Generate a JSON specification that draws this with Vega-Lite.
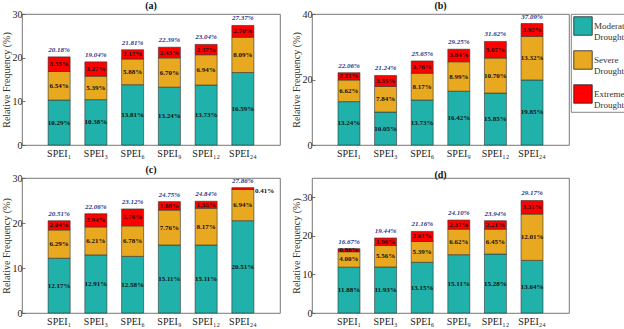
{
  "$schema": "https://vega.github.io/schema/vega-lite/v6.json",
  "padding": {"left": 0, "top": 0, "right": 0, "bottom": 0},
  "autosize": {"type": "pad"},
  "background": "white",
  "config": {
    "font": "Liberation Serif",
    "view": {"stroke": "#555", "strokeWidth": 0.8},
    "title": {"font": "Liberation Serif", "fontSize": 10, "fontWeight": "bold", "color": "#111", "offset": -2, "frame": "group"},
    "axis": {"domain": false, "grid": false, "labelFont": "Liberation Serif", "labelFontSize": 10, "labelColor": "#222", "titleFont": "Liberation Serif", "titleFontSize": 10, "titleFontWeight": "normal", "titleColor": "#333", "tickColor": "#555", "tickWidth": 0.8},
    "axisX": {"ticks": false, "labelAngle": 0, "labelPadding": 3, "title": null},
    "axisY": {"tickSize": -3, "labelPadding": 3, "titleX": -16, "titleBaseline": "middle"},
    "legend": {"title": null, "orient": "right", "offset": 1, "strokeColor": "#666", "strokeWidth": 0.8, "padding": 2, "symbolType": "square", "symbolSize": 340, "symbolStrokeColor": "#222", "symbolStrokeWidth": 0.8, "symbolOpacity": 1, "labelFont": "Liberation Serif", "labelFontSize": 9, "labelColor": "#333", "labelLimit": 200, "rowPadding": 7, "labelOffset": 1}
  },
  "datasets": {
    "main": [
      {"p": "a", "s": "SPEI₁", "Moderate Drought": 10.29, "Severe Drought": 6.54, "Extreme Drought": 3.35, "t": 20.18},
      {"p": "a", "s": "SPEI₃", "Moderate Drought": 10.38, "Severe Drought": 5.39, "Extreme Drought": 3.27, "t": 19.04},
      {"p": "a", "s": "SPEI₆", "Moderate Drought": 13.81, "Severe Drought": 5.88, "Extreme Drought": 2.12, "t": 21.81},
      {"p": "a", "s": "SPEI₉", "Moderate Drought": 13.24, "Severe Drought": 6.70, "Extreme Drought": 2.45, "t": 22.39},
      {"p": "a", "s": "SPEI₁₂", "Moderate Drought": 13.73, "Severe Drought": 6.94, "Extreme Drought": 2.37, "t": 23.04},
      {"p": "a", "s": "SPEI₂₄", "Moderate Drought": 16.59, "Severe Drought": 8.09, "Extreme Drought": 2.70, "t": 27.37},
      {"p": "b", "s": "SPEI₁", "Moderate Drought": 13.24, "Severe Drought": 6.62, "Extreme Drought": 2.21, "t": 22.06},
      {"p": "b", "s": "SPEI₃", "Moderate Drought": 10.05, "Severe Drought": 7.84, "Extreme Drought": 3.35, "t": 21.24},
      {"p": "b", "s": "SPEI₆", "Moderate Drought": 13.73, "Severe Drought": 8.17, "Extreme Drought": 3.76, "t": 25.65},
      {"p": "b", "s": "SPEI₉", "Moderate Drought": 16.42, "Severe Drought": 8.99, "Extreme Drought": 3.84, "t": 29.25},
      {"p": "b", "s": "SPEI₁₂", "Moderate Drought": 15.85, "Severe Drought": 10.70, "Extreme Drought": 5.07, "t": 31.62},
      {"p": "b", "s": "SPEI₂₄", "Moderate Drought": 19.85, "Severe Drought": 13.32, "Extreme Drought": 3.92, "t": 37.09},
      {"p": "c", "s": "SPEI₁", "Moderate Drought": 12.17, "Severe Drought": 6.29, "Extreme Drought": 2.04, "t": 20.51},
      {"p": "c", "s": "SPEI₃", "Moderate Drought": 12.91, "Severe Drought": 6.21, "Extreme Drought": 2.94, "t": 22.06},
      {"p": "c", "s": "SPEI₆", "Moderate Drought": 12.58, "Severe Drought": 6.78, "Extreme Drought": 3.76, "t": 23.12},
      {"p": "c", "s": "SPEI₉", "Moderate Drought": 15.11, "Severe Drought": 7.76, "Extreme Drought": 1.88, "t": 24.75},
      {"p": "c", "s": "SPEI₁₂", "Moderate Drought": 15.11, "Severe Drought": 8.17, "Extreme Drought": 1.55, "t": 24.84},
      {"p": "c", "s": "SPEI₂₄", "Moderate Drought": 20.51, "Severe Drought": 6.94, "Extreme Drought": 0.41, "t": 27.86},
      {"p": "d", "s": "SPEI₁", "Moderate Drought": 11.88, "Severe Drought": 4.00, "Extreme Drought": 0.80, "t": 16.67},
      {"p": "d", "s": "SPEI₃", "Moderate Drought": 11.93, "Severe Drought": 5.56, "Extreme Drought": 1.96, "t": 19.44},
      {"p": "d", "s": "SPEI₆", "Moderate Drought": 13.15, "Severe Drought": 5.39, "Extreme Drought": 2.61, "t": 21.16},
      {"p": "d", "s": "SPEI₉", "Moderate Drought": 15.11, "Severe Drought": 6.62, "Extreme Drought": 2.37, "t": 24.10},
      {"p": "d", "s": "SPEI₁₂", "Moderate Drought": 15.28, "Severe Drought": 6.45, "Extreme Drought": 2.21, "t": 23.94},
      {"p": "d", "s": "SPEI₂₄", "Moderate Drought": 13.64, "Severe Drought": 12.01, "Extreme Drought": 3.51, "t": 29.17}
    ]
  },
  "resolve": {"scale": {"color": "shared"}},
  "bounds": "flush",
  "columns": 2,
  "spacing": {"row": 33, "column": 32},
  "concat": [
    {
      "width": 258, "height": 131,
      "title": "(a)",
      "data": {"name": "main"},
      "transform": [
        {"filter": "datum.p === 'a'"},
        {"fold": ["Moderate Drought", "Severe Drought", "Extreme Drought"], "as": ["cat", "v"]},
        {"calculate": "indexof(['Moderate Drought','Severe Drought','Extreme Drought'], datum.cat)", "as": "o"},
        {"stack": "v", "groupby": ["s"], "sort": [{"field": "o", "order": "ascending"}], "as": ["v0", "v1"]},
        {"calculate": "(datum.v0 + datum.v1) / 2", "as": "mid"},
        {"calculate": "format(datum.v, '.2f') + '%'", "as": "lab"},
        {"calculate": "format(datum.t, '.2f') + '%'", "as": "tlab"}
      ],
      "encoding": {
        "x": {"field": "s", "type": "nominal", "sort": ["SPEI₁", "SPEI₃", "SPEI₆", "SPEI₉", "SPEI₁₂", "SPEI₂₄"], "scale": {"paddingInner": 0.4, "paddingOuter": 0.71}, "axis": {}}
      },
      "layer": [
        {
          "mark": {"type": "bar", "stroke": "#333", "strokeWidth": 0.6},
          "encoding": {
            "y": {"field": "v0", "type": "quantitative", "scale": {"domain": [0, 30], "nice": false}, "axis": {"title": "Relative Frequency (%)", "values": [0, 5, 10, 15, 20, 25, 30]}},
            "y2": {"field": "v1"},
            "color": {"field": "cat", "type": "nominal", "scale": {"domain": ["Moderate Drought", "Severe Drought", "Extreme Drought"], "range": ["#20B2AA", "#E8A820", "#FF0000"]}, "legend": {"labelExpr": "split(datum.label, ' ')"}}
          }
        },
        {
          "mark": {"type": "text", "fontSize": 7, "fontWeight": "bold", "color": "#111"},
          "encoding": {"y": {"field": "mid", "type": "quantitative"}, "text": {"field": "lab"}}
        },
        {
          "transform": [{"filter": "datum.o === 0"}],
          "mark": {"type": "text", "fontSize": 7, "fontWeight": "bold", "fontStyle": "italic", "color": "#2B3A8E", "dy": -7},
          "encoding": {"y": {"field": "t", "type": "quantitative"}, "text": {"field": "tlab"}}
        }
      ]
    },
    {
      "width": 257, "height": 131,
      "title": "(b)",
      "data": {"name": "main"},
      "transform": [
        {"filter": "datum.p === 'b'"},
        {"fold": ["Moderate Drought", "Severe Drought", "Extreme Drought"], "as": ["cat", "v"]},
        {"calculate": "indexof(['Moderate Drought','Severe Drought','Extreme Drought'], datum.cat)", "as": "o"},
        {"stack": "v", "groupby": ["s"], "sort": [{"field": "o", "order": "ascending"}], "as": ["v0", "v1"]},
        {"calculate": "(datum.v0 + datum.v1) / 2", "as": "mid"},
        {"calculate": "format(datum.v, '.2f') + '%'", "as": "lab"},
        {"calculate": "format(datum.t, '.2f') + '%'", "as": "tlab"}
      ],
      "encoding": {
        "x": {"field": "s", "type": "nominal", "sort": ["SPEI₁", "SPEI₃", "SPEI₆", "SPEI₉", "SPEI₁₂", "SPEI₂₄"], "scale": {"paddingInner": 0.4, "paddingOuter": 0.71}, "axis": {}}
      },
      "layer": [
        {
          "mark": {"type": "bar", "stroke": "#333", "strokeWidth": 0.6},
          "encoding": {
            "y": {"field": "v0", "type": "quantitative", "scale": {"domain": [0, 40], "nice": false}, "axis": {"title": "Relative Frequency (%)", "values": [0, 10, 20, 30, 40]}},
            "y2": {"field": "v1"},
            "color": {"field": "cat", "type": "nominal", "scale": {"domain": ["Moderate Drought", "Severe Drought", "Extreme Drought"], "range": ["#20B2AA", "#E8A820", "#FF0000"]}, "legend": {"labelExpr": "split(datum.label, ' ')"}}
          }
        },
        {
          "mark": {"type": "text", "fontSize": 7, "fontWeight": "bold", "color": "#111"},
          "encoding": {"y": {"field": "mid", "type": "quantitative"}, "text": {"field": "lab"}}
        },
        {
          "transform": [{"filter": "datum.o === 0"}],
          "mark": {"type": "text", "fontSize": 7, "fontWeight": "bold", "fontStyle": "italic", "color": "#2B3A8E", "dy": -7},
          "encoding": {"y": {"field": "t", "type": "quantitative"}, "text": {"field": "tlab"}}
        }
      ]
    },
    {
      "width": 258, "height": 135,
      "title": "(c)",
      "data": {"name": "main"},
      "transform": [
        {"filter": "datum.p === 'c'"},
        {"fold": ["Moderate Drought", "Severe Drought", "Extreme Drought"], "as": ["cat", "v"]},
        {"calculate": "indexof(['Moderate Drought','Severe Drought','Extreme Drought'], datum.cat)", "as": "o"},
        {"stack": "v", "groupby": ["s"], "sort": [{"field": "o", "order": "ascending"}], "as": ["v0", "v1"]},
        {"calculate": "(datum.v0 + datum.v1) / 2", "as": "mid"},
        {"calculate": "format(datum.v, '.2f') + '%'", "as": "lab"},
        {"calculate": "format(datum.t, '.2f') + '%'", "as": "tlab"}
      ],
      "encoding": {
        "x": {"field": "s", "type": "nominal", "sort": ["SPEI₁", "SPEI₃", "SPEI₆", "SPEI₉", "SPEI₁₂", "SPEI₂₄"], "scale": {"paddingInner": 0.4, "paddingOuter": 0.71}, "axis": {}}
      },
      "layer": [
        {
          "mark": {"type": "bar", "stroke": "#333", "strokeWidth": 0.6},
          "encoding": {
            "y": {"field": "v0", "type": "quantitative", "scale": {"domain": [0, 30], "nice": false}, "axis": {"title": "Relative Frequency (%)", "values": [0, 5, 10, 15, 20, 25, 30]}},
            "y2": {"field": "v1"},
            "color": {"field": "cat", "type": "nominal", "scale": {"domain": ["Moderate Drought", "Severe Drought", "Extreme Drought"], "range": ["#20B2AA", "#E8A820", "#FF0000"]}, "legend": {"labelExpr": "split(datum.label, ' ')"}}
          }
        },
        {
          "transform": [{"filter": "!(datum.s === 'SPEI₂₄' && datum.o === 2)"}],
          "mark": {"type": "text", "fontSize": 7, "fontWeight": "bold", "color": "#111"},
          "encoding": {"y": {"field": "mid", "type": "quantitative"}, "text": {"field": "lab"}}
        },
        {
          "transform": [{"filter": "datum.s === 'SPEI₂₄' && datum.o === 2"}],
          "mark": {"type": "text", "fontSize": 7, "fontWeight": "bold", "color": "#111", "align": "left", "dx": 12, "dy": 2},
          "encoding": {"y": {"field": "mid", "type": "quantitative"}, "text": {"field": "lab"}}
        },
        {
          "transform": [{"filter": "datum.o === 0"}],
          "mark": {"type": "text", "fontSize": 7, "fontWeight": "bold", "fontStyle": "italic", "color": "#2B3A8E", "dy": -7},
          "encoding": {"y": {"field": "t", "type": "quantitative"}, "text": {"field": "tlab"}}
        }
      ]
    },
    {
      "width": 257, "height": 135,
      "title": "(d)",
      "data": {"name": "main"},
      "transform": [
        {"filter": "datum.p === 'd'"},
        {"fold": ["Moderate Drought", "Severe Drought", "Extreme Drought"], "as": ["cat", "v"]},
        {"calculate": "indexof(['Moderate Drought','Severe Drought','Extreme Drought'], datum.cat)", "as": "o"},
        {"stack": "v", "groupby": ["s"], "sort": [{"field": "o", "order": "ascending"}], "as": ["v0", "v1"]},
        {"calculate": "(datum.v0 + datum.v1) / 2", "as": "mid"},
        {"calculate": "format(datum.v, '.2f') + '%'", "as": "lab"},
        {"calculate": "format(datum.t, '.2f') + '%'", "as": "tlab"}
      ],
      "encoding": {
        "x": {"field": "s", "type": "nominal", "sort": ["SPEI₁", "SPEI₃", "SPEI₆", "SPEI₉", "SPEI₁₂", "SPEI₂₄"], "scale": {"paddingInner": 0.4, "paddingOuter": 0.71}, "axis": {}}
      },
      "layer": [
        {
          "mark": {"type": "bar", "stroke": "#333", "strokeWidth": 0.6},
          "encoding": {
            "y": {"field": "v0", "type": "quantitative", "scale": {"domain": [0, 35], "nice": false}, "axis": {"title": "Relative Frequency (%)", "values": [0, 5, 10, 15, 20, 25, 30, 35]}},
            "y2": {"field": "v1"},
            "color": {"field": "cat", "type": "nominal", "scale": {"domain": ["Moderate Drought", "Severe Drought", "Extreme Drought"], "range": ["#20B2AA", "#E8A820", "#FF0000"]}, "legend": {"labelExpr": "split(datum.label, ' ')"}}
          }
        },
        {
          "mark": {"type": "text", "fontSize": 7, "fontWeight": "bold", "color": "#111"},
          "encoding": {"y": {"field": "mid", "type": "quantitative"}, "text": {"field": "lab"}}
        },
        {
          "transform": [{"filter": "datum.o === 0"}],
          "mark": {"type": "text", "fontSize": 7, "fontWeight": "bold", "fontStyle": "italic", "color": "#2B3A8E", "dy": -7},
          "encoding": {"y": {"field": "t", "type": "quantitative"}, "text": {"field": "tlab"}}
        }
      ]
    }
  ]
}
